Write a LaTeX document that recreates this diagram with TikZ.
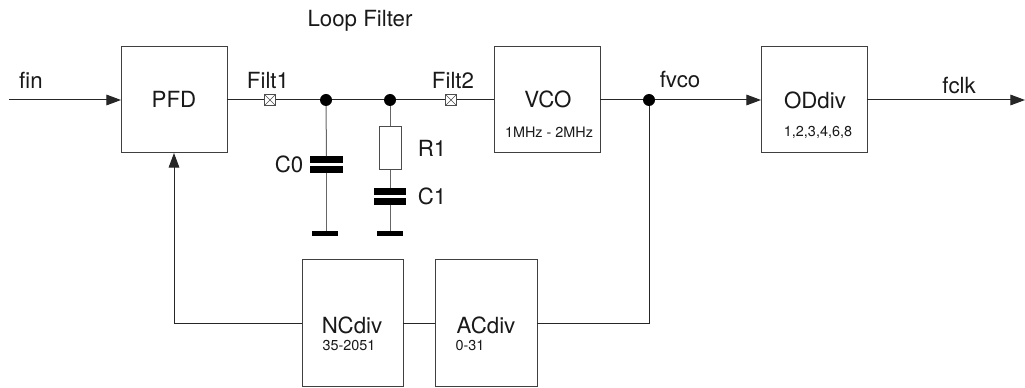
\documentclass[tikz,border=0pt]{standalone}
\usepackage{fontspec}
\setmainfont{TeX Gyre Heros}
\usetikzlibrary{arrows.meta}
\tikzset{
  wire/.style={line width=0.75pt,black!85},
  arrowwire/.style={wire,-{Triangle[length=11pt,width=8pt]}},
  blockbox/.style={draw=black!75,fill=white,line width=0.75pt,inner sep=0pt,outer sep=0pt,minimum width=#1*0.75pt},
  junction/.style={circle,fill=black,inner sep=0pt,outer sep=0pt,minimum size=9pt},
  testpoint/.style={draw=black!70,fill=white,line width=0.5pt,inner sep=0pt,outer sep=0pt,minimum size=8pt,
    path picture={\draw[black!70,line width=0.4pt] (path picture bounding box.north west)--(path picture bounding box.south east)
      (path picture bounding box.north east)--(path picture bounding box.south west);}},
  plate/.style={fill=black,inner sep=0pt,outer sep=0pt,minimum height=5pt,minimum width=#1*0.75pt},
  main/.style={font=\fontsize{16.7pt}{18pt}\selectfont,inner sep=0pt,text=black!90},
  small/.style={font=\fontsize{10.8pt}{12pt}\selectfont,inner sep=0pt,text=black!90},
  sub/.style={font=\fontsize{16.7pt}{18pt}\selectfont,inner sep=0pt,text=black!90},
}
\begin{document}
\begin{tikzpicture}[x=0.75pt,y=-0.75pt]
\useasboundingbox (0,0) rectangle (1025,388);
% blocks
\node[blockbox=106,minimum height=79.5pt] (pfd) at (174,100) {};
\node[blockbox=106,minimum height=79.5pt] (vco) at (547,100) {};
\node[blockbox=106,minimum height=79.5pt] (od) at (814,100) {};
\node[blockbox=101,minimum height=95.25pt] (nc) at (352.5,323.5) {};
\node[blockbox=102,minimum height=95.25pt] (ac) at (486,323.5) {};
% free ends and wiring points
\coordinate (finstart) at (9,100);
\coordinate (clkend) at (1025,100);
\node[junction] (j1) at (326,100) {};
\node[junction] (j2) at (390,100) {};
\node[junction] (j3) at (649,100) {};
\node[testpoint] (tp1) at (270,100) {};
\node[testpoint] (tp2) at (451,100) {};
\node[draw=black!70,fill=white,line width=0.6pt,inner sep=0pt,outer sep=0pt,minimum width=16.5pt,minimum height=32.5pt] (r1) at (390,148) {};
\node[plate=33] (c0a) at (326.5,159.5) {};
\node[plate=33] (c0b) at (326.5,169.5) {};
\node[plate=32] (c1a) at (390,191.5) {};
\node[plate=32] (c1b) at (390,201.5) {};
\node[plate=26,minimum height=4pt] (g0) at (325,233.5) {};
\node[plate=26,minimum height=4pt] (g1) at (389.5,233.5) {};
% connectors
\draw[arrowwire] (finstart) -- (pfd.west);
\draw[wire] (pfd.east) -- (tp1) -- (j1) -- (j2) -- (tp2) -- (vco.west);
\draw[wire] (vco.east) -- (j3);
\draw[arrowwire] (j3) -- (od.west);
\draw[arrowwire] (od.east) -- (clkend);
\draw[wire,black!60] (j1) -- (c0a);
\draw[wire,black!60] (c0b) -- (g0.north -| c0b);
\draw[wire,black!60] (j2) -- (r1);
\draw[wire,black!60] (r1) -- (c1a);
\draw[wire,black!60] (c1b) -- (g1.north -| c1b);
\draw[wire] (j3) |- (ac.east);
\draw[wire] (ac.west) -- (nc.east);
\draw[arrowwire] (nc.west) -| (pfd.south);
% redraw markers above wires
\node[testpoint] at (tp1) {};
\node[testpoint] at (tp2) {};
% labels
\node[main] (lpfd) at (174,99) {PFD};
\node[main] (lvco) at (548,99) {VCO};
\node[main] (lod) at (815,100) {ODdiv};
\node[main] (lnc) at (352,325) {NCdiv};
\node[main] (lac) at (486,325) {ACdiv};
\node[small] (svco) at (549,132) {1MHz - 2MHz};
\node[small] (sod) at (818,132) {1,2,3,4,6,8};
\node[small] (snc) at (349,346) {35-2051};
\node[small] (sac) at (470,346) {0-31};
\node[sub] (tfin) at (31,80) {fin};
\node[sub] (tf1) at (268,80) {Filt1};
\node[sub] (tf2) at (453,80) {Filt2};
\node[sub] (tfvco) at (680,80) {fvco};
\node[sub] (tclk) at (959,86) {fclk};
\node[sub] (tlf) at (360,21) {Loop Filter};
\node[main] (tc0) at (289,164) {C0};
\node[main] (tr1) at (432,148) {R1};
\node[main] (tc1) at (432,196) {C1};
\end{tikzpicture}
\end{document}
